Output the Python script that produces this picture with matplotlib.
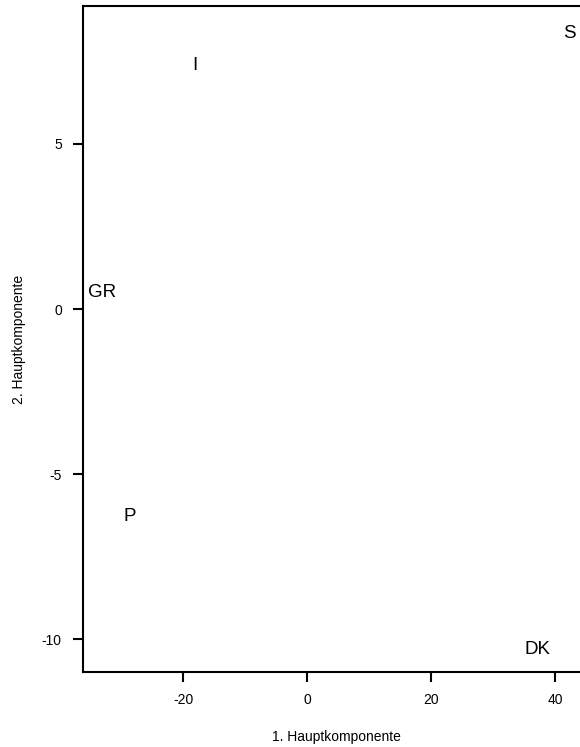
import matplotlib
matplotlib.use('Agg')
from matplotlib import pyplot as plt
import numpy as np

# scores of the countries on the first two principal components
countries = ['I', 'S', 'GR', 'P', 'DK']
pc1 = [-18.1, 42.4, -33.1, -28.6, 37.2]
pc2 = [7.45, 8.42, 0.58, -6.2, -10.23]

x_ticks = [-20, 0, 20, 40]
y_ticks = [-10, -5, 0, 5]

plt.rcParams['font.family'] = ['Liberation Sans', 'DejaVu Sans']
plt.rcParams['axes.unicode_minus'] = False

fig = plt.figure(figsize=(5.8, 7.47), dpi=100)
# right part of the box lies outside the picture, as in the original
ax = fig.add_axes([83.3 / 580, 75.3 / 747, 505.3 / 580, 665.4 / 747])

for name, x, y in zip(countries, pc1, pc2):
    ax.annotate(name, (x, y), xytext=(0, -1.5), textcoords='offset points',
                ha='center', va='center', fontsize=13.5)

# R style range: data range extended by 4 % on each side
def r_range(v):
    lo, hi = min(v), max(v)
    d = (hi - lo) * 0.04
    return lo - d, hi + d

ax.set_xlim(*r_range(pc1))
ax.set_ylim(*r_range(pc2))
ax.set_xticks(x_ticks)
ax.set_yticks(y_ticks)
ax.tick_params(direction='out', length=7.5, width=1.5, labelsize=10, pad=8)
for s in ax.spines.values():
    s.set_linewidth(1.5)
ax.set_xlabel('1. Hauptkomponente', fontsize=10, va='center')
ax.set_ylabel('2. Hauptkomponente', fontsize=10, va='center')
ax.xaxis.set_label_coords((336 - 83.3) / 505.3, -(737 - 671.7) / 665.4)
ax.yaxis.set_label_coords(-(83.3 - 19) / 505.3, 0.5)

fig.savefig('out.png', dpi=100)
